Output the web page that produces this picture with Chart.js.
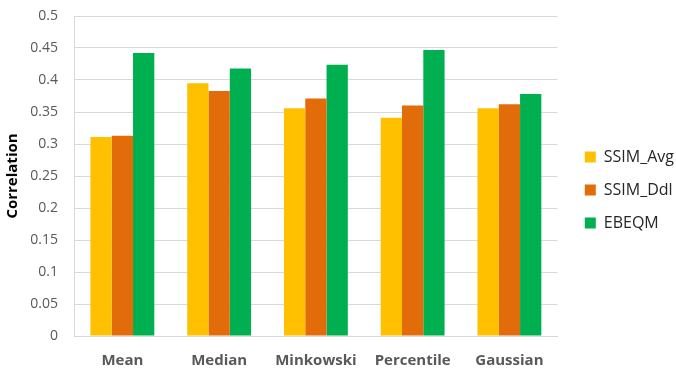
<!DOCTYPE html>
<html>
<head>
<meta charset="utf-8">
<script src="https://cdn.jsdelivr.net/npm/chart.js@4.4.0/dist/chart.umd.min.js"></script>
<style>
  html, body { margin: 0; padding: 0; background: #ffffff; }
  #wrap { width: 676px; height: 368px; }
</style>
</head>
<body>
<div id="wrap"><canvas id="c" width="676" height="368"></canvas></div>
<script>
// Pooling methods compared on the x axis
const categories = ['Mean', 'Median', 'Minkowski', 'Percentile', 'Gaussian'];
// Correlation per pooling method for each quality metric
const ssimAvg = [0.311, 0.395, 0.356, 0.341, 0.356];
const ssimDdl = [0.313, 0.383, 0.371, 0.360, 0.362];
const ebeqm   = [0.442, 0.418, 0.424, 0.447, 0.378];
// Y axis ticks
const yTicks = [0, 0.05, 0.1, 0.15, 0.2, 0.25, 0.3, 0.35, 0.4, 0.45, 0.5];

const FONT = "'Open Sans', 'Liberation Sans', sans-serif";

// Nudge the legend block a little right and up from its default slot
const legendNudge = {
  id: 'legendNudge',
  afterLayout(chart) {
    const lg = chart.legend;
    if (!lg) return;
    const dx = 10, dy = -2;
    lg.left += dx; lg.right += dx;
    lg.top += dy; lg.bottom += dy;
  }
};

new Chart(document.getElementById('c'), {
  type: 'bar',
  data: {
    labels: categories,
    datasets: [
      { label: 'SSIM_Avg', data: ssimAvg, backgroundColor: '#FFC000' },
      { label: 'SSIM_Ddl', data: ssimDdl, backgroundColor: '#E36C0A' },
      { label: 'EBEQM',    data: ebeqm,   backgroundColor: '#00B050' }
    ]
  },
  plugins: [legendNudge],
  options: {
    responsive: false,
    animation: false,
    devicePixelRatio: 1,
    layout: { padding: { left: 0, right: 2, top: 16, bottom: 0 } },
    datasets: {
      bar: { categoryPercentage: 0.66, barPercentage: 1.0 }
    },
    plugins: {
      legend: {
        position: 'right',
        labels: {
          boxWidth: 11,
          boxHeight: 11,
          padding: 17,
          color: '#262626',
          font: { family: FONT, size: 16 }
        }
      },
      tooltip: { enabled: false }
    },
    scales: {
      x: {
        afterFit: (s) => { s.height = 32; s.paddingLeft = 0; s.paddingRight = 0; },
        grid: { display: false, drawTicks: false },
        border: { display: true, color: '#d9d9d9', width: 1 },
        ticks: {
          color: '#595959',
          padding: 16,
          font: { family: FONT, size: 15, weight: 'bold' }
        }
      },
      y: {
        min: 0,
        max: 0.5,
        afterFit: (s) => { s.width = 74; s.paddingTop = 0; s.paddingBottom = 0; },
        afterBuildTicks: (axis) => { axis.ticks = yTicks.map(v => ({ value: v })); },
        grid: { color: '#d9d9d9', drawTicks: false },
        border: { display: true, color: '#d9d9d9', width: 1 },
        ticks: {
          color: '#595959',
          padding: 16,
          font: { family: FONT, size: 14 },
          callback: (v) => String(Math.round(v * 100) / 100)
        },
        title: {
          display: true,
          text: 'Correlation',
          color: '#000000',
          padding: { top: 4, bottom: 0 },
          font: { family: FONT, size: 15, weight: 'bold' }
        }
      }
    }
  }
});
</script>
</body>
</html>
